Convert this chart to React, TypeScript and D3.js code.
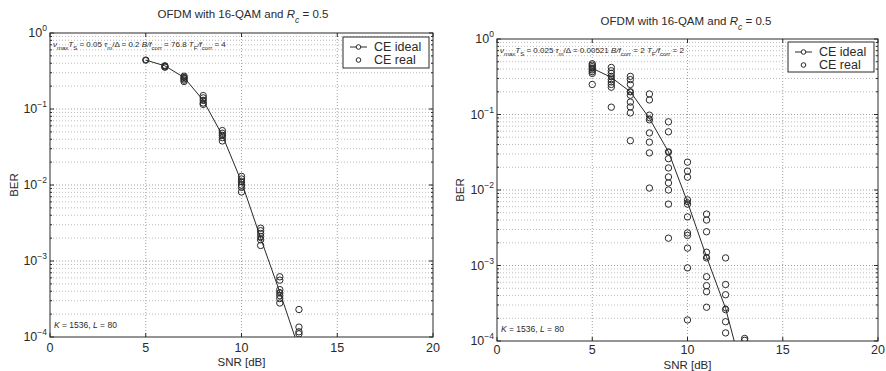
import React from "react";
import * as d3 from "d3";

// ---------- data ----------
const snrIdeal = [5, 6, 7, 8, 9, 10, 11, 12, 13];
const berIdealLeft = [0.44, 0.37, 0.26, 0.13, 0.045, 0.011, 0.002, 0.00039, 0.00007];
const berIdealRight = [0.41, 0.31, 0.2, 0.089, 0.032, 0.0069, 0.0013, 0.00027, 0.00003];

const realLeftSnr = [
  5,
  6, 6, 6,
  7, 7, 7, 7, 7,
  8, 8, 8, 8, 8,
  9, 9, 9, 9, 9,
  10, 10, 10, 10, 10, 10,
  11, 11, 11, 11, 11, 11,
  12, 12, 12, 12, 12, 12, 12,
  13, 13, 13, 13,
];
const realLeftBer = [
  0.44,
  0.37, 0.36, 0.355,
  0.27, 0.26, 0.25, 0.24, 0.23,
  0.15, 0.14, 0.13, 0.12, 0.115,
  0.052, 0.048, 0.045, 0.042, 0.038,
  0.013, 0.012, 0.011, 0.01, 0.0093, 0.0081,
  0.0027, 0.0025, 0.0023, 0.0021, 0.0019, 0.0016,
  0.00062, 0.00056, 0.00042, 0.00038, 0.00035, 0.00032, 0.00028,
  0.00023, 0.000135, 0.000117, 0.00011,
];

const realRightSnr = [
  5, 5, 5, 5, 5, 5, 5, 5,
  6, 6, 6, 6, 6, 6, 6, 6, 6,
  7, 7, 7, 7, 7, 7, 7, 7, 7,
  8, 8, 8, 8, 8, 8, 8, 8,
  9, 9, 9, 9, 9, 9, 9, 9, 9, 9,
  10, 10, 10, 10, 10, 10, 10, 10, 10, 10, 10,
  11, 11, 11, 11, 11, 11, 11, 11, 11,
  12, 12, 12, 12, 12, 12,
  13, 13,
];
const realRightBer = [
  0.47, 0.45, 0.43, 0.41, 0.39, 0.37, 0.35, 0.25,
  0.42, 0.38, 0.35, 0.32, 0.29, 0.27, 0.25, 0.23, 0.125,
  0.32, 0.29, 0.25, 0.2, 0.18, 0.146, 0.126, 0.105, 0.045,
  0.187, 0.156, 0.098, 0.085, 0.057, 0.043, 0.031, 0.0106,
  0.08, 0.059, 0.032, 0.026, 0.0196, 0.0149, 0.0124, 0.01, 0.0065, 0.0023,
  0.0234, 0.0178, 0.0148, 0.0074, 0.0065, 0.0044, 0.0027, 0.0025, 0.0017, 0.00093, 0.00019,
  0.0048, 0.004, 0.0028, 0.0015, 0.00126, 0.00071, 0.00054, 0.00045, 0.00028,
  0.00126, 0.00056, 0.00041, 0.00026, 0.00018, 0.000128,
  0.000108, 0.000102,
];

const xTicks = [0, 5, 10, 15, 20];
const yExponents = [0, -1, -2, -3, -4];

const INK = "#2a2a2a";
const FONT = "'Liberation Sans', Arial, Helvetica, sans-serif";

type Annot = {
  nu: string;
  tau: string;
  b: string;
  tf: string;
};

type PanelProps = {
  left: number;
  right: number;
  top: number;
  bottom: number;
  titleX: number;
  titleY: number;
  ideal: number[];
  realX: number[];
  realY: number[];
  annot: Annot;
  legend: { x: number; y: number; w: number; h: number };
  berLabelX: number;
  tickLabelY: number;
  snrLabelY: number;
};

function Panel(p: PanelProps) {
  const x = d3.scaleLinear().domain([0, 20]).range([p.left, p.right]);
  const y = d3.scaleLog().domain([1e-4, 1]).range([p.bottom, p.top]);

  const minors: number[] = [];
  for (let e = -4; e < 0; e++) {
    for (let m = 2; m <= 9; m++) minors.push(m * Math.pow(10, e));
  }

  const clipId = `clip-${p.left}`;
  const line = d3
    .line<number>()
    .x((_, i) => x(snrIdeal[i]))
    .y((d) => y(d));

  const sub = (t: string) => (
    <tspan baselineShift="sub" fontSize={6}>
      {t}
    </tspan>
  );

  return (
    <g fontFamily={FONT}>
      <defs>
        <clipPath id={clipId}>
          <rect x={p.left} y={p.top} width={p.right - p.left} height={p.bottom - p.top} />
        </clipPath>
      </defs>
      {/* title */}
      <text x={p.titleX} y={p.titleY} textAnchor="middle" fontSize={11.5} fill={INK}>
        OFDM with 16-QAM and{" "}
        <tspan fontStyle="italic">R</tspan>
        <tspan baselineShift="sub" fontSize={8.5} fontStyle="italic">c</tspan>
        <tspan> = 0.5</tspan>
      </text>

      {/* grid */}
      <g stroke="#a0a0a0" strokeWidth={1} strokeDasharray="1,2">
        {xTicks.slice(1, -1).map((t) => (
          <line key={`gx${t}`} x1={x(t)} x2={x(t)} y1={p.top} y2={p.bottom} />
        ))}
        {yExponents.slice(1, -1).map((e) => (
          <line key={`gy${e}`} x1={p.left} x2={p.right} y1={y(Math.pow(10, e))} y2={y(Math.pow(10, e))} />
        ))}
        {minors.map((m, i) => (
          <line key={`gm${i}`} x1={p.left} x2={p.right} y1={y(m)} y2={y(m)} stroke="#bdbdbd" />
        ))}
      </g>

      {/* axes box */}
      <rect
        x={p.left}
        y={p.top}
        width={p.right - p.left}
        height={p.bottom - p.top}
        fill="none"
        stroke={INK}
        strokeWidth={1}
      />
      {/* ticks */}
      <g stroke={INK} strokeWidth={1}>
        {xTicks.map((t) => (
          <g key={`tx${t}`}>
            <line x1={x(t)} x2={x(t)} y1={p.bottom} y2={p.bottom - 4} />
            <line x1={x(t)} x2={x(t)} y1={p.top} y2={p.top + 4} />
          </g>
        ))}
        {yExponents.map((e) => (
          <g key={`ty${e}`}>
            <line x1={p.left} x2={p.left + 4} y1={y(Math.pow(10, e))} y2={y(Math.pow(10, e))} />
            <line x1={p.right} x2={p.right - 4} y1={y(Math.pow(10, e))} y2={y(Math.pow(10, e))} />
          </g>
        ))}
        {minors.map((m, i) => (
          <g key={`tm${i}`}>
            <line x1={p.left} x2={p.left + 2} y1={y(m)} y2={y(m)} />
            <line x1={p.right} x2={p.right - 2} y1={y(m)} y2={y(m)} />
          </g>
        ))}
      </g>

      {/* tick labels */}
      {xTicks.map((t) => (
        <text key={`lx${t}`} x={x(t)} y={p.tickLabelY} textAnchor="middle" fontSize={12.5} fill={INK}>
          {t}
        </text>
      ))}
      {yExponents.map((e) => (
        <text key={`ly${e}`} x={p.left - 3} y={y(Math.pow(10, e)) + 4} textAnchor="end" fontSize={12.5} fill={INK}>
          10
          <tspan dy={-6} fontSize={8.5}>
            {e === 0 ? "0" : `\u2212${-e}`}
          </tspan>
        </text>
      ))}

      {/* axis labels */}
      <text x={(p.left + p.right) / 2} y={p.snrLabelY} textAnchor="middle" fontSize={11.5} fill={INK}>
        SNR [dB]
      </text>
      <text
        transform={`translate(${p.berLabelX},${(p.top + p.bottom) / 2}) rotate(-90)`}
        textAnchor="middle"
        fontSize={11.5}
        fill={INK}
      >
        BER
      </text>

      {/* data */}
      <g clipPath={`url(#${clipId})`}>
        <path d={line(p.ideal) || ""} fill="none" stroke={INK} strokeWidth={1} />
        {p.realX.map((sx, i) => (
          <circle key={`r${i}`} cx={x(sx)} cy={y(p.realY[i])} r={3.2} fill="none" stroke={INK} strokeWidth={1} />
        ))}
        {p.ideal.map((v, i) => (
          <circle key={`i${i}`} cx={x(snrIdeal[i])} cy={y(v)} r={2.6} fill="none" stroke={INK} strokeWidth={1} />
        ))}
      </g>

      {/* annotation */}
      <text x={p.left + 3} y={p.top + 14} fontSize={8} fill={INK}>
        <tspan fontStyle="italic">ν</tspan>
        {sub("max")}
        <tspan fontStyle="italic">T</tspan>
        {sub("S")}
        <tspan>{` = ${p.annot.nu}  `}</tspan>
        <tspan fontStyle="italic">τ</tspan>
        {sub("m")}
        <tspan>{`/Δ = ${p.annot.tau}  `}</tspan>
        <tspan fontStyle="italic">B/f</tspan>
        {sub("corr")}
        <tspan>{` = ${p.annot.b}  `}</tspan>
        <tspan fontStyle="italic">T</tspan>
        {sub("F")}
        <tspan fontStyle="italic">/f</tspan>
        {sub("corr")}
        <tspan>{` = ${p.annot.tf}`}</tspan>
      </text>
      <text x={p.left + 4} y={p.bottom - 9} fontSize={8.5} fill={INK}>
        <tspan fontStyle="italic">K</tspan>
        <tspan>{" = 1536,  "}</tspan>
        <tspan fontStyle="italic">L</tspan>
        <tspan>{" = 80"}</tspan>
      </text>

      {/* legend */}
      <g>
        <rect x={p.legend.x} y={p.legend.y} width={p.legend.w} height={p.legend.h} fill="#fff" stroke={INK} strokeWidth={1} />
        <line
          x1={p.legend.x + 7}
          x2={p.legend.x + 24}
          y1={p.legend.y + 10}
          y2={p.legend.y + 10}
          stroke={INK}
          strokeWidth={1}
        />
        <circle cx={p.legend.x + 15.5} cy={p.legend.y + 10} r={2.3} fill="#fff" stroke={INK} />
        <circle cx={p.legend.x + 15.5} cy={p.legend.y + 23} r={2.3} fill="none" stroke={INK} />
        <text x={p.legend.x + 31} y={p.legend.y + 14} fontSize={12.5} fill={INK}>
          CE ideal
        </text>
        <text x={p.legend.x + 31} y={p.legend.y + 27} fontSize={12.5} fill={INK}>
          CE real
        </text>
      </g>
    </g>
  );
}

export default function App() {
  return (
    <div style={{ position: "absolute", left: 0, top: 0 }}>
      <svg width={886} height={371} viewBox="0 0 886 371" style={{ display: "block", background: "#fff" }}>
        <Panel
          left={50}
          right={433}
          top={33}
          bottom={337}
          titleX={243}
          titleY={18}
          ideal={berIdealLeft}
          realX={realLeftSnr}
          realY={realLeftBer}
          annot={{ nu: "0.05", tau: "0.2", b: "76.8", tf: "4" }}
          legend={{ x: 343, y: 37, w: 86, h: 31 }}
          berLabelX={18}
          tickLabelY={352}
          snrLabelY={366}
        />
        <Panel
          left={497}
          right={878}
          top={39}
          bottom={341}
          titleX={686}
          titleY={25}
          ideal={berIdealRight}
          realX={realRightSnr}
          realY={realRightBer}
          annot={{ nu: "0.025", tau: "0.00521", b: "2", tf: "2" }}
          legend={{ x: 788, y: 42, w: 86, h: 30 }}
          berLabelX={464}
          tickLabelY={354}
          snrLabelY={368.5}
        />
      </svg>
    </div>
  );
}
